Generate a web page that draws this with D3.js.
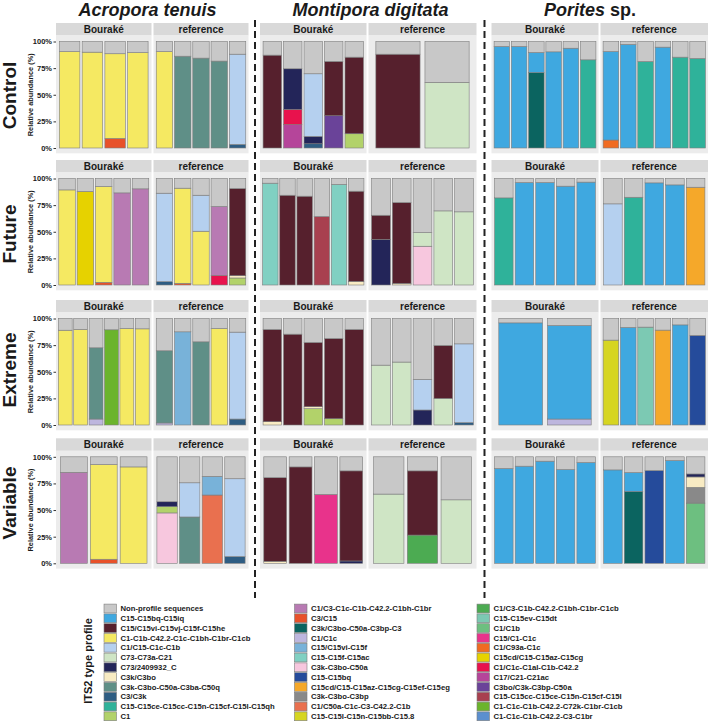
<!DOCTYPE html>
<html><head><meta charset="utf-8">
<script src="https://cdn.jsdelivr.net/npm/d3@7"></script>
<style>body{margin:0;background:#fff}svg{display:block}</style>
</head><body>
<script>
// ---------------- DATA ----------------
const treatments = ["Control","Future","Extreme","Variable"];
const sites = ["Bouraké","reference"];
const speciesNames = ["Acropora tenuis","Montipora digitata","Porites sp."];
const yTicks = [0,25,50,75,100];

const profileCodes = [
 "NP","Cbq","Mar","Yel","LBl","PGr","Navy","Cream","GTe","C3C3k","Teal","C1",
 "Orc","C3C15","DTe","Lav","MBl","Turq","Pink","RBl","OYel","Gry","Salm","Olive",
 "Grn1","Mint","C1b","Mag","C93","DYel","Crim","C17","Purp","MRed","Grn72","C3br"];
const profileLabels = [
 "Non-profile sequences","C15-C15bq-C15iq","C15/C15vi-C15vj-C15f-C15he","C1-C1b-C42.2-C1c-C1bh-C1br-C1cb","C1/C15-C1c-C1b","C73-C73a-C21","C73/2409932_C","C3k/C3bo","C3k-C3bo-C50a-C3ba-C50q","C3/C3k","C15-C15ce-C15cc-C15n-C15cf-C15l-C15qh","C1",
 "C1/C3-C1c-C1b-C42.2-C1bh-C1br","C3/C15","C3k/C3bo-C50a-C3bp-C3","C1/C1c","C15/C15vi-C15f","C15-C15f-C15ac","C3k-C3bo-C50a","C15-C15bq","C15cd/C15-C15az-C15cg-C15ef-C15eg","C3k-C3bo-C3bp","C1/C50a-C1c-C3-C42.2-C1b","C15-C15l-C15n-C15bb-C15.8",
 "C1/C3-C1b-C42.2-C1bh-C1br-C1cb","C15-C15ev-C15dt","C1/C1b","C15/C1-C1c","C1/C93a-C1c","C15cd/C15-C15az-C15cg","C1/C1c-C1al-C1b-C42.2","C17/C21-C21ac","C3bo/C3k-C3bp-C50a","C15-C15cc-C15ce-C15n-C15cf-C15l","C1-C1c-C1b-C42.2-C72k-C1br-C1cb","C1-C1c-C1b-C42.2-C3-C1br"];
const profileColors = [
 "#c8c8c8","#3fa8e0","#56202d","#f5e962","#b5d0ef","#cfe5c5","#232559","#f8ebc3","#5f8f87","#2e5d83","#2fb29a","#b2d26a",
 "#b87ab3","#e8512a","#0b6460","#bdb6de","#78b2d9","#80d0c2","#f7c7de","#254b9b","#f5a82a","#898989","#e9704f","#d6d521",
 "#4cab52","#7cc9b3","#6dbf80","#e8338b","#f06b21","#e6d200","#e8124d","#b5459a","#6a4399","#a8404f","#6bb42c","#5b8fcf"];

// each bar: [profile, %] from bottom up; remainder = non-profile sequences
const acroControl = [
 {site:"Bouraké", segs:[["Yel",90.5]]},{site:"Bouraké", segs:[["Yel",90]]},{site:"Bouraké", segs:[["C3C15",9],["Yel",79.5]]},{site:"Bouraké", segs:[["Yel",89.5]]},
 {site:"reference", segs:[["Yel",90.5]]},{site:"reference", segs:[["GTe",86.2]]},{site:"reference", segs:[["GTe",84.4]]},{site:"reference", segs:[["GTe",81.6]]},{site:"reference", segs:[["C3C3k",3.4],["LBl",84.7]]}];
const acroFuture = [
 {site:"Bouraké", segs:[["Yel",89.3]]},{site:"Bouraké", segs:[["DYel",87.8]]},{site:"Bouraké", segs:[["C3C15",2.5],["Yel",90]]},{site:"Bouraké", segs:[["Orc",86.5]]},{site:"Bouraké", segs:[["Orc",90.3]]},
 {site:"reference", segs:[["C3C3k",3.1],["LBl",83.1]]},{site:"reference", segs:[["C3C15",1.6],["Yel",89.3]]},{site:"reference", segs:[["Yel",50.5],["LBl",33.8]]},{site:"reference", segs:[["Crim",9.1],["Orc",64.6]]},{site:"reference", segs:[["C1",6.6],["Cream",2.2],["Mar",81.8]]}];
const acroExtreme = [
 {site:"Bouraké", segs:[["Yel",89]]},{site:"Bouraké", segs:[["Yel",89.7]]},{site:"Bouraké", segs:[["Lav",5.6],["GTe",66.9]]},{site:"Bouraké", segs:[["Grn72",89.4]]},{site:"Bouraké", segs:[["Yel",90.6]]},{site:"Bouraké", segs:[["Yel",90.3]]},
 {site:"reference", segs:[["Lav",1.9],["GTe",67.8]]},{site:"reference", segs:[["MBl",87.5]]},{site:"reference", segs:[["GTe",78.1]]},{site:"reference", segs:[["Yel",90.6]]},{site:"reference", segs:[["C3C3k",5.6],["LBl",81.6]]}];
const acroVariable = [
 {site:"Bouraké", segs:[["Orc",85.4]]},{site:"Bouraké", segs:[["C3C15",3.8],["Yel",88.9]]},{site:"Bouraké", segs:[["Yel",90.5]]},
 {site:"reference", segs:[["Pink",47.3],["C1",6],["Navy",4.5]]},{site:"reference", segs:[["GTe",43.5],["LBl",32.1]]},{site:"reference", segs:[["Salm",64.1],["MBl",17.5]]},{site:"reference", segs:[["C3C3k",6.3],["LBl",73.1]]}];

const montiControl = [
 {site:"Bouraké", segs:[["Mar",87.2]]},{site:"Bouraké", segs:[["C17",21.9],["Crim",14.4],["Navy",38.1]]},{site:"Bouraké", segs:[["C3C3k",4],["Navy",6.9],["LBl",58.8]]},{site:"Bouraké", segs:[["Purp",30.3],["Mar",51]]},{site:"Bouraké", segs:[["C1",13.4],["Mar",71.9]]},
 {site:"reference", segs:[["Mar",88.1]]},{site:"reference", segs:[["PGr",61.6]]}];
const montiFuture = [
 {site:"Bouraké", segs:[["Turq",95.6]]},{site:"Bouraké", segs:[["Mar",84.3]]},{site:"Bouraké", segs:[["Mar",83.4]]},{site:"Bouraké", segs:[["MRed",64.3]]},{site:"Bouraké", segs:[["Turq",94.4]]},{site:"Bouraké", segs:[["Cream",3.4],["Mar",84.7]]},
 {site:"reference", segs:[["Navy",42.9],["Mar",22.6]]},{site:"reference", segs:[["Cream",1.5],["Mar",75.9]]},{site:"reference", segs:[["Pink",36.4],["PGr",12.8]]},{site:"reference", segs:[["PGr",69.6]]},{site:"reference", segs:[["PGr",68.7]]}];
const montiExtreme = [
 {site:"Bouraké", segs:[["Cream",3.1],["Mar",86.6]]},{site:"Bouraké", segs:[["Mar",85.3]]},{site:"Bouraké", segs:[["C1",15.3],["Cream",1.9],["Mar",60.3]]},{site:"Bouraké", segs:[["C1",5.9],["Mar",75.3]]},{site:"Bouraké", segs:[["Mar",89.7]]},
 {site:"reference", segs:[["PGr",56.2]]},{site:"reference", segs:[["PGr",59.1]]},{site:"reference", segs:[["Navy",14.1],["LBl",28.7]]},{site:"reference", segs:[["PGr",25],["Mar",49.7]]},{site:"reference", segs:[["C3C3k",2.2],["LBl",74]]}];
const montiVariable = [
 {site:"Bouraké", segs:[["Cream",1.9],["Mar",78.5]]},{site:"Bouraké", segs:[["Mar",90.5]]},{site:"Bouraké", segs:[["Mag",64.7]]},{site:"Bouraké", segs:[["Navy",2.2],["Mar",84.6]]},
 {site:"reference", segs:[["PGr",65]]},{site:"reference", segs:[["Grn1",26.5],["Mar",60.3]]},{site:"reference", segs:[["PGr",59.6]]}];

const poriControl = [
 {site:"Bouraké", segs:[["Cbq",95.3]]},{site:"Bouraké", segs:[["Cbq",95.3]]},{site:"Bouraké", segs:[["DTe",70.9],["Cbq",18.8]]},{site:"Bouraké", segs:[["Cbq",90.3]]},{site:"Bouraké", segs:[["Cbq",93.7]]},{site:"Bouraké", segs:[["Teal",82.8]]},
 {site:"reference", segs:[["C93",7.5],["Cbq",83.1]]},{site:"reference", segs:[["Cbq",97.2]]},{site:"reference", segs:[["Teal",81.2]]},{site:"reference", segs:[["Cbq",94.7]]},{site:"reference", segs:[["Teal",85.3]]},{site:"reference", segs:[["Teal",84.1]]}];
const poriFuture = [
 {site:"Bouraké", segs:[["Teal",81.8]]},{site:"Bouraké", segs:[["Cbq",96.2]]},{site:"Bouraké", segs:[["Cbq",96.2]]},{site:"Bouraké", segs:[["Cbq",92.8]]},{site:"Bouraké", segs:[["Cbq",96.6]]},
 {site:"reference", segs:[["LBl",76.2]]},{site:"reference", segs:[["Teal",82.4]]},{site:"reference", segs:[["Cbq",95.9]]},{site:"reference", segs:[["Cbq",94]]},{site:"reference", segs:[["OYel",91.8]]}];
const poriExtreme = [
 {site:"Bouraké", segs:[["Cbq",95.9]]},{site:"Bouraké", segs:[["Lav",5.6],["Cbq",87.8]]},
 {site:"reference", segs:[["Olive",79.7]]},{site:"reference", segs:[["Cbq",91.6]]},{site:"reference", segs:[["Mint",91.9]]},{site:"reference", segs:[["OYel",89.1]]},{site:"reference", segs:[["Cbq",94]]},{site:"reference", segs:[["RBl",84.1]]}];
const poriVariable = [
 {site:"Bouraké", segs:[["Cbq",89]]},{site:"Bouraké", segs:[["Cbq",91.2]]},{site:"Bouraké", segs:[["Cbq",95.9]]},{site:"Bouraké", segs:[["Cbq",88]]},{site:"Bouraké", segs:[["Cbq",94.6]]},
 {site:"reference", segs:[["Cbq",87.7]]},{site:"reference", segs:[["DTe",67.5],["Cbq",17.7]]},{site:"reference", segs:[["RBl",87.1]]},{site:"reference", segs:[["Cbq",96.5]]},{site:"reference", segs:[["C1b",56.5],["Gry",14.8],["Cream",9.8],["Navy",2.8]]}];

const speciesData = [
 [acroControl, acroFuture, acroExtreme, acroVariable],
 [montiControl, montiFuture, montiExtreme, montiVariable],
 [poriControl, poriFuture, poriExtreme, poriVariable]];

// ---------------- LAYOUT ----------------
const W = 709, H = 723;
const FONT = "'Liberation Sans', Arial, Helvetica, sans-serif";
const color = d3.scaleOrdinal(profileCodes, profileColors);

const panelX = [
 [[56,151.5],[153.5,248.5]],
 [[260,366.5],[368.5,476.5]],
 [[491.5,598.5],[600.5,708]]];
const stripTops = [23,160,300,438.3];
const stripH = 12.5;
const plotH = 106.5;
const titleX = [147.5, 370.5, 590];
const rowLabelY = [95.5, 234, 370, 503];

const svg = d3.select("body").append("svg").attr("width", W).attr("height", H)
  .style("font-family", FONT);

// species titles
speciesNames.forEach((nm, i) => {
  const t = svg.append("text").attr("x", titleX[i]).attr("y", 15.5)
    .attr("text-anchor","middle").attr("font-size",18).attr("font-weight","bold").attr("fill","#1a1a1a");
  if (nm.endsWith(" sp.")) {
    t.append("tspan").attr("font-style","italic").text(nm.replace(" sp.",""));
    t.append("tspan").text(" sp.");
  } else {
    t.attr("font-style","italic").text(nm);
  }
});

// dashed separators
[255, 484.5].forEach(x => {
  svg.append("line").attr("x1",x).attr("x2",x).attr("y1",20).attr("y2",598)
    .attr("stroke","#222").attr("stroke-width",2).attr("stroke-dasharray","7,4");
});

treatments.forEach((tr, r) => {
  const sTop = stripTops[r];
  const y100 = sTop + 18.5, y0 = y100 + plotH;
  const y = d3.scaleLinear().domain([0,100]).range([y0, y100]);
  const pad = (y0 - y100) * 0.05;

  svg.append("text").attr("transform", `translate(9.5,${rowLabelY[r]}) rotate(-90)`)
    .attr("text-anchor","middle").attr("dy","0.36em").attr("font-size",19).attr("font-weight","bold")
    .attr("fill","#1a1a1a").text(tr);
  svg.append("text").attr("transform", `translate(30.5,${(y0+y100)/2}) rotate(-90)`)
    .attr("text-anchor","middle").attr("dy","0.35em").attr("font-size",7.4).attr("font-weight","bold")
    .attr("fill","#1a1a1a").text("Relative abundance (%)");
  const ax = svg.append("g").attr("transform", `translate(${panelX[0][0][0]},0)`)
    .call(d3.axisLeft(y).tickValues(yTicks).tickFormat(d => d + "%").tickSize(2.5).tickPadding(1.5));
  ax.select(".domain").remove();
  ax.selectAll("line").attr("stroke","#333");
  ax.selectAll("text").attr("font-size",7.5).attr("font-weight","bold").attr("fill","#1a1a1a").attr("font-family",FONT);

  speciesData.forEach((spRows, s) => {
    const rowData = spRows[r];
    sites.forEach((site, k) => {
      const [x0, x1] = panelX[s][k];
      const bars = rowData.filter(d => d.site === site);
      const x = d3.scaleBand().domain(d3.range(bars.length)).range([x0, x1])
        .paddingInner(0.1).paddingOuter(0.15);
      svg.append("rect").attr("x",x0).attr("y",sTop).attr("width",x1-x0).attr("height",stripH).attr("fill","#d9d9d9");
      svg.append("text").attr("x",(x0+x1)/2).attr("y",sTop+stripH/2).attr("dy","0.36em")
        .attr("text-anchor","middle").attr("font-size",10).attr("font-weight","bold").attr("fill","#1a1a1a").text(site);
      svg.append("rect").attr("x",x0).attr("y",sTop+stripH).attr("width",x1-x0)
        .attr("height",(y0+pad)-(sTop+stripH)).attr("fill","#ececec");
      const g = svg.append("g");
      bars.forEach((b, i) => {
        let cum = 0;
        const segs = b.segs.map(([p, v]) => { const o = {p, a: cum, b: cum + v}; cum += v; return o; });
        segs.push({p: "NP", a: cum, b: 100});
        g.selectAll(null).data(segs).join("rect")
          .attr("x", x(i)).attr("width", x.bandwidth())
          .attr("y", d => y(d.b)).attr("height", d => y(d.a) - y(d.b))
          .attr("fill", d => color(d.p))
          .attr("stroke", "#7d7d7d").attr("stroke-width", 0.6);
      });
    });
  });
});

// legend
const lg = svg.append("g");
lg.append("text").attr("transform","translate(88,661) rotate(-90)").attr("text-anchor","middle")
  .attr("dy","0.35em").attr("font-size",11).attr("font-weight","bold").attr("fill","#1a1a1a").text("ITS2 type profile");
const legCols = [104, 294.5, 477];
profileCodes.forEach((code, i) => {
  const c = Math.floor(i / 12), rr = i % 12;
  const cy = 608.5 + rr * 9.8;
  lg.append("rect").attr("x", legCols[c]).attr("y", cy - 4.4).attr("width", 12.5).attr("height", 8.8)
    .attr("fill", color(code)).attr("stroke", "#7d7d7d").attr("stroke-width", 0.6);
  lg.append("text").attr("x", legCols[c] + 16.5).attr("y", cy).attr("dy","0.35em")
    .attr("font-size", 7.7).attr("font-weight","bold").attr("fill","#1a1a1a").text(profileLabels[i]);
});
</script>
</body></html>
